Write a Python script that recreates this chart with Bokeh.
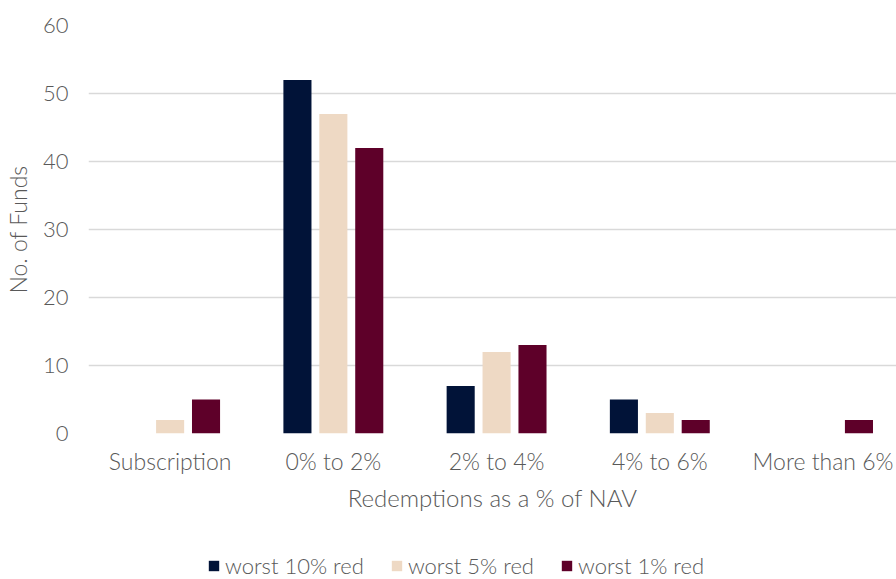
from bokeh.plotting import figure
from bokeh.models import Range1d, Legend, LegendItem, FixedTicker
from bokeh.layouts import column
from bokeh.embed import file_html
from bokeh.resources import INLINE

categories = ["Subscription", "0% to 2%", "2% to 4%", "4% to 6%", "More than 6%"]
series_names = ["worst 10% red", "worst 5% red", "worst 1% red"]
worst10 = [0, 52, 7, 5, 0]
worst5 = [2, 47, 12, 3, 0]
worst1 = [5, 42, 13, 2, 2]
colors = ["#011338", "#EED9C4", "#5E0029"]
y_ticks = [0, 10, 20, 30, 40, 50, 60]

FONT = "Lato Light"
TEXT_COLOR = "#595959"

p = figure(width=896, height=534, output_backend="svg", toolbar_location=None,
           x_range=Range1d(0, 4.95), y_range=Range1d(0, 60),
           min_border_left=88, min_border_right=0, min_border_top=25, min_border_bottom=101)
p.outline_line_color = None
p.background_fill_color = "white"
p.border_fill_color = "white"

offsets = [-0.22, 0.0, 0.22]
for vals, off, col in zip([worst10, worst5, worst1], offsets, colors):
    xs = [i + 0.5 + off for i in range(len(categories))]
    p.vbar(x=xs, top=vals, bottom=0, width=0.172, fill_color=col, line_color=None)

p.xaxis.ticker = FixedTicker(ticks=[i + 0.5 for i in range(len(categories))])
p.xaxis.major_label_overrides = {i + 0.5: c for i, c in enumerate(categories)}
p.yaxis.ticker = FixedTicker(ticks=y_ticks)
p.xgrid.visible = False
p.ygrid.ticker = FixedTicker(ticks=y_ticks)
p.ygrid.grid_line_color = "#D9D9D9"
p.ygrid.grid_line_width = 1.5

for ax in [p.xaxis[0], p.yaxis[0]]:
    ax.axis_line_color = None
    ax.major_tick_line_color = None
    ax.minor_tick_line_color = None
    ax.major_tick_out = 0
    ax.major_tick_in = 0
    ax.major_label_text_font = FONT
    ax.major_label_text_font_size = "22px"
    ax.major_label_text_color = TEXT_COLOR
    ax.axis_label_text_font = FONT
    ax.axis_label_text_color = TEXT_COLOR
    ax.axis_label_text_font_style = "normal"

p.xaxis.major_label_text_font_size = "23px"
p.xaxis.axis_label_text_font_size = "24px"
p.yaxis.axis_label_text_font_size = "23px"
p.xaxis.axis_label = "Redemptions as a % of NAV"
p.yaxis.axis_label = "No. of Funds"
p.xaxis.major_label_standoff = 13
p.xaxis.axis_label_standoff = 5
p.yaxis.major_label_standoff = 20
p.yaxis.axis_label_standoff = 8

# legend strip (its own small figure below the chart)
lg = figure(width=896, height=45, output_backend="svg", toolbar_location=None,
            x_range=Range1d(0, 1), y_range=Range1d(0, 1),
            x_axis_location=None, y_axis_location=None,
            min_border_left=0, min_border_right=0, min_border_top=0, min_border_bottom=0)
lg.grid.visible = False
lg.outline_line_color = None
lg.border_fill_color = "white"
lg.background_fill_color = "white"
leg_renderers = []
for col in colors:
    # placed outside the visible range: only its legend swatch is shown
    r = lg.vbar(x=[5], top=[1], width=0.1, fill_color=col, line_color=None)
    leg_renderers.append(r)

legend = Legend(items=[LegendItem(label=n, renderers=[r]) for n, r in zip(series_names, leg_renderers)],
                orientation="horizontal", location=(119, 0))
legend.label_text_font = FONT
legend.label_text_font_size = "22px"
legend.label_text_color = TEXT_COLOR
legend.glyph_width = 13
legend.glyph_height = 13
legend.spacing = 26
legend.border_line_color = None
legend.background_fill_alpha = 0
legend.margin = 0
legend.padding = 0
legend.label_standoff = 5
lg.add_layout(legend, "center")

layout = column(p, lg, spacing=0)
open("out.html", "w").write(file_html(layout, INLINE))
